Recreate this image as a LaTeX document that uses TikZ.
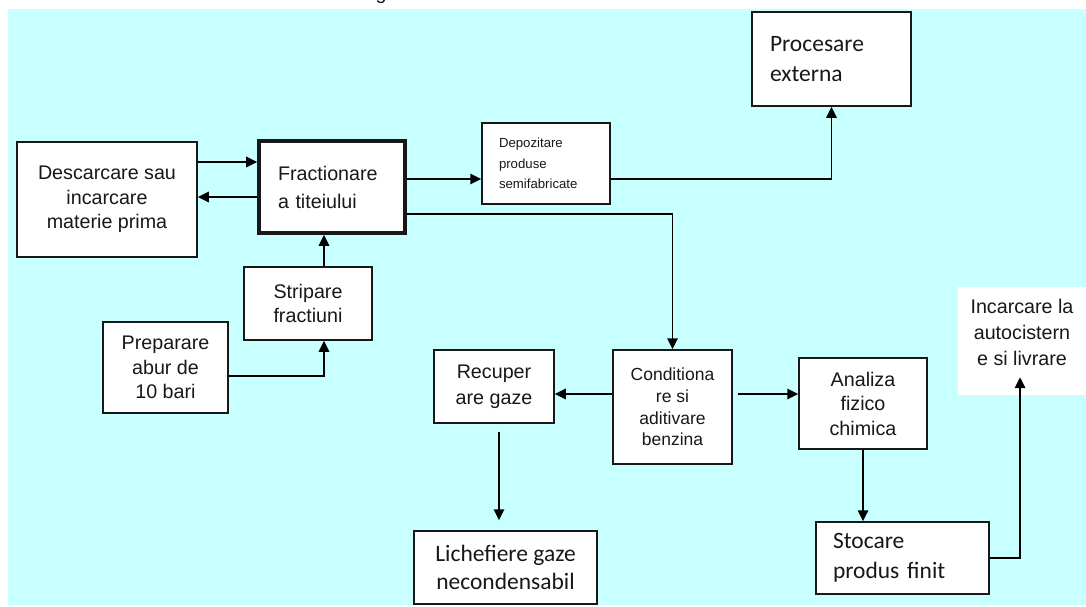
\documentclass[tikz,border=0pt]{standalone}
\usepackage{fontspec}
\usepackage{tikz}
\usepackage{xcolor}
\usetikzlibrary{arrows.meta}
\setmainfont{Liberation Sans}
\newfontfamily\calibrifont{Carlito}
\definecolor{bgcyan}{RGB}{200,255,255}
\definecolor{inkgray}{RGB}{24,24,24}
\newcommand{\boxfont}{\fontsize{19.7}{24.5}\selectfont}
\newcommand{\condfont}{\fontsize{17.5}{21.7}\selectfont}
\newcommand{\tinyboxfont}{\fontsize{13.2}{20.5}\selectfont}
\newcommand{\calfont}{\calibrifont\fontsize{23.5}{30}\selectfont}
\tikzset{
	boxed/.style={draw=inkgray,fill=white,line width=1.5pt,inner sep=0pt,text=inkgray},
	arrow/.style={draw=black,line width=1.7pt,-{Triangle[length=11pt,width=10.5pt]}}
}

\begin{document}
\begin{tikzpicture}[x=1pt,y=-1pt]
	\useasboundingbox (0,0) rectangle (1086,606);
	\fill[bgcyan] (8,9) rectangle (1086,605);
	\node[anchor=base,inner sep=0pt,text=inkgray,font=\boxfont] (title_cut) at (381,-1) {g};

	\node[boxed,minimum width=180,minimum height=115,align=center,font=\boxfont] (descarcare) at (107,199.5) {Descarcare sau\\incarcare\\materie prima};
	\node[boxed,line width=3.8pt,minimum width=146,minimum height=92,text width=108,align=left,font=\fontsize{19.7}{28}\selectfont] (fractionare) at (332,187) {Fractionare\\a titeiului};
	\node[boxed,minimum width=128,minimum height=81,text width=94,align=left,font=\tinyboxfont] (depozitare) at (546,163.5) {Depozitare\\produse\\semifabricate};
	\node[boxed,minimum width=159,minimum height=94,text width=123,align=left,font=\calfont] (procesare) at (831.5,59) {Procesare\\externa};
	\node[boxed,minimum width=128,minimum height=73,align=center,font=\fontsize{19.7}{23.3}\selectfont] (stripare) at (308,303.5) {Stripare\\fractiuni};
	\node[boxed,minimum width=125,minimum height=91,align=center,font=\boxfont] (preparare) at (165.5,367.5) {Preparare\\abur de\\10 bari};
	\node[boxed,minimum width=120,minimum height=73,align=center,font=\fontsize{19.7}{25.7}\selectfont] (recuperare) at (494,386.5) {Recuper\\are gaze};
	\node[boxed,minimum width=119,minimum height=114,align=center,font=\condfont] (conditionare) at (672.5,407) {Conditiona\\re si\\aditivare\\benzina};
	\node[boxed,minimum width=183,minimum height=73,align=center,font=\calibrifont\fontsize{23.5}{28}\selectfont] (lichefiere) at (505.5,567.5) {Lichefiere gaze\\necondensabil};
	\node[boxed,minimum width=128,minimum height=91,align=center,font=\boxfont] (analiza) at (863,403.5) {Analiza\\fizico\\chimica};
	\node[boxed,minimum width=173,minimum height=72,text width=139,align=left,font=\calfont] (stocare) at (902.5,558) {Stocare\\produs finit};
	\node[fill=white,text=inkgray,inner sep=0pt,minimum width=128,minimum height=108,align=center,font=\fontsize{19.7}{26}\selectfont] (incarcare) at (1022,341) {Incarcare la\\autocistern\\e si livrare\\[-8pt]};

	\coordinate (fr_in) at ([yshift=25pt]fractionare.west);
	\coordinate (fr_back) at ([yshift=-10pt]fractionare.west);
	\coordinate (dep_in) at ([yshift=-15.5pt]depozitare.west);
	\coordinate (strip_up) at ([xshift=16pt]stripare.north);
	\coordinate (cond_out) at ([yshift=13pt]conditionare.west);
	\coordinate (cond_right) at ([shift={(5pt,13pt)}]conditionare.east);
	\coordinate (rec_down) at ([shift={(5pt,-8pt)}]recuperare.south);
	\coordinate (lich_top) at ([yshift=10pt]lichefiere.north);

	\draw[arrow] (descarcare.east |- fr_in) -- (fr_in);
	\draw[arrow] (fr_back) -- (descarcare.east |- fr_back);
	\draw[arrow] (fractionare.east |- dep_in) -- (dep_in);
	\draw[arrow] (depozitare.east |- dep_in) -| (procesare.south);
	\draw[arrow] ([yshift=-27pt]fractionare.east) -| (conditionare.north);
	\draw[arrow] (strip_up) -- (strip_up |- fractionare.south);
	\draw[arrow] ([yshift=-8.5pt]preparare.east) -| ([xshift=16pt]stripare.south);
	\draw[arrow] (cond_out) -- (recuperare.east |- cond_out);
	\draw[arrow] (cond_right) -- (analiza.west |- cond_right);
	\draw[arrow] (rec_down) -- (rec_down |- lich_top);
	\draw[arrow] (analiza.south) -- (analiza.south |- stocare.north);
	\draw[arrow] (stocare.east) -| ([shift={(-2pt,18pt)}]incarcare.south);
\end{tikzpicture}
\end{document}
